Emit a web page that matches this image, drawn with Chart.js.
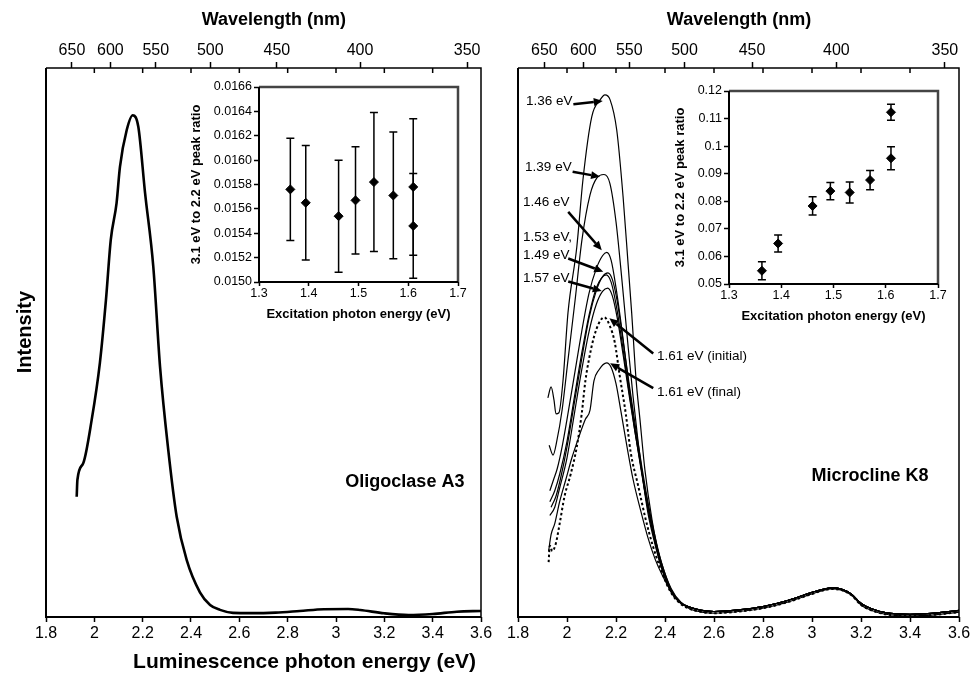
<!DOCTYPE html>
<html>
<head>
<meta charset="utf-8">
<script src="https://cdn.jsdelivr.net/npm/chart.js@4.4.1/dist/chart.umd.min.js"></script>
<style>
  body { margin: 0; background: #fff; }
  #wrap { position: relative; width: 974px; height: 677px; }
  #wrap canvas { position: absolute; left: 0; top: 0; }
</style>
</head>
<body>
<div id="wrap">
  <canvas id="oligoclase" width="974" height="677"></canvas>
  <canvas id="microcline" width="974" height="677"></canvas>
  <canvas id="oligoRatio" width="974" height="677"></canvas>
  <canvas id="k8Ratio" width="974" height="677"></canvas>
</div>
<script>
const HC = 1239.84; // eV nm
const wavelengthTicks = [650, 600, 550, 500, 450, 400, 350];

// Oligoclase A3 emission (all excitation energies overlap)
const oligoE = [1.927, 1.930, 1.954, 1.989, 2.023, 2.048, 2.068, 2.092, 2.106, 2.134, 2.159, 2.182, 2.210, 2.244, 2.272, 2.306, 2.341, 2.382, 2.437, 2.479, 2.520, 2.574, 2.650, 2.750, 2.850, 2.950, 3.050, 3.100, 3.200, 3.300, 3.400, 3.500, 3.600];
const oligoI = [0.219, 0.250, 0.280, 0.359, 0.463, 0.577, 0.687, 0.754, 0.820, 0.887, 0.914, 0.893, 0.772, 0.638, 0.455, 0.304, 0.182, 0.104, 0.045, 0.022, 0.013, 0.0075, 0.007, 0.008, 0.011, 0.0142, 0.0146, 0.0128, 0.0067, 0.0036, 0.0055, 0.0097, 0.011];

// Microcline K8 spectra, normalised on the 3.1 eV band; they share the tail
const tailE = [2.50, 2.55, 2.60, 2.70, 2.80, 2.90, 3.00, 3.05, 3.08, 3.12, 3.16, 3.20, 3.25, 3.30, 3.40, 3.50, 3.60];
const tailI = [0.018, 0.012, 0.010, 0.013, 0.019, 0.030, 0.045, 0.051, 0.053, 0.051, 0.042, 0.025, 0.014, 0.008, 0.005, 0.007, 0.012];
const tailILow = [0.015, 0.009, 0.007, 0.010, 0.016, 0.027, 0.042, 0.049, 0.051, 0.049, 0.040, 0.022, 0.011, 0.005, 0.002, 0.004, 0.009];

const e136 = [1.922, 1.935, 1.947, 1.955, 1.967, 1.984, 2.004, 2.040, 2.065, 2.101, 2.135, 2.155, 2.176, 2.203, 2.229, 2.249, 2.264, 2.282, 2.298, 2.318, 2.347, 2.380, 2.420, 2.461];
const i136 = [0.399, 0.419, 0.395, 0.370, 0.372, 0.432, 0.554, 0.674, 0.796, 0.911, 0.942, 0.951, 0.942, 0.887, 0.765, 0.645, 0.554, 0.432, 0.359, 0.268, 0.177, 0.104, 0.049, 0.026];
const e139 = [1.927, 1.943, 1.959, 1.980, 2.004, 2.033, 2.061, 2.094, 2.122, 2.151, 2.175, 2.200, 2.225, 2.250, 2.270, 2.290, 2.310, 2.330, 2.355, 2.385, 2.420, 2.460];
const i139 = [0.313, 0.295, 0.322, 0.377, 0.468, 0.577, 0.687, 0.769, 0.800, 0.806, 0.790, 0.720, 0.610, 0.490, 0.400, 0.320, 0.250, 0.190, 0.140, 0.090, 0.050, 0.027];
const e146 = [1.930, 1.945, 1.960, 1.980, 2.000, 2.030, 2.060, 2.090, 2.120, 2.145, 2.162, 2.180, 2.200, 2.225, 2.250, 2.275, 2.300, 2.325, 2.350, 2.380, 2.420, 2.460];
const i146 = [0.230, 0.250, 0.270, 0.310, 0.360, 0.440, 0.520, 0.590, 0.635, 0.658, 0.664, 0.650, 0.600, 0.520, 0.430, 0.350, 0.280, 0.210, 0.155, 0.100, 0.052, 0.027];
const e149 = [1.930, 1.950, 1.970, 2.000, 2.030, 2.060, 2.090, 2.120, 2.140, 2.160, 2.180, 2.200, 2.225, 2.250, 2.275, 2.300, 2.325, 2.350, 2.380, 2.420, 2.460];
const i149 = [0.210, 0.230, 0.260, 0.320, 0.400, 0.480, 0.550, 0.600, 0.617, 0.623, 0.610, 0.570, 0.500, 0.420, 0.345, 0.275, 0.210, 0.155, 0.100, 0.052, 0.027];
const e153 = [1.935, 1.955, 1.975, 2.000, 2.030, 2.060, 2.090, 2.120, 2.145, 2.167, 2.185, 2.205, 2.230, 2.255, 2.280, 2.305, 2.330, 2.355, 2.385, 2.425, 2.465];
const i153 = [0.200, 0.220, 0.255, 0.310, 0.390, 0.470, 0.545, 0.595, 0.620, 0.627, 0.615, 0.575, 0.500, 0.420, 0.345, 0.275, 0.210, 0.155, 0.100, 0.052, 0.027];
const e157 = [1.930, 1.950, 1.970, 2.000, 2.030, 2.060, 2.090, 2.120, 2.145, 2.166, 2.185, 2.205, 2.230, 2.255, 2.280, 2.305, 2.330, 2.355, 2.385, 2.425, 2.465];
const i157 = [0.185, 0.200, 0.235, 0.290, 0.370, 0.450, 0.520, 0.570, 0.593, 0.599, 0.585, 0.545, 0.475, 0.400, 0.330, 0.265, 0.205, 0.150, 0.100, 0.050, 0.026];
const e161i = [1.925, 1.930, 1.940, 1.955, 1.970, 1.990, 2.015, 2.040, 2.060, 2.075, 2.090, 2.110, 2.130, 2.152, 2.175, 2.195, 2.215, 2.240, 2.260, 2.290, 2.320, 2.350, 2.380, 2.420, 2.460];
const i161i = [0.100, 0.130, 0.120, 0.135, 0.170, 0.220, 0.260, 0.310, 0.370, 0.430, 0.470, 0.510, 0.535, 0.546, 0.530, 0.500, 0.440, 0.370, 0.300, 0.240, 0.180, 0.130, 0.090, 0.048, 0.025];
const e161f = [1.925, 1.935, 1.950, 1.970, 1.995, 2.020, 2.050, 2.075, 2.094, 2.110, 2.130, 2.162, 2.180, 2.200, 2.220, 2.245, 2.270, 2.300, 2.330, 2.360, 2.390, 2.430, 2.470];
const i161f = [0.120, 0.150, 0.170, 0.210, 0.250, 0.290, 0.330, 0.360, 0.377, 0.430, 0.450, 0.463, 0.455, 0.425, 0.375, 0.310, 0.250, 0.195, 0.145, 0.105, 0.075, 0.043, 0.024];

// curve labels: text, where it sits, arrow start and tip (eV, intensity)
const k8Labels = [['1.36 eV'], ['1.39 eV'], ['1.46 eV'], ['1.53 eV,', '1.49 eV'], ['1.57 eV'], ['1.61 eV (initial)'], ['1.61 eV (final)']];
const k8LabelAt = [[1.833, 0.940], [1.829, 0.820], [1.820, 0.756], [1.820, 0.692], [1.820, 0.617], [2.367, 0.474], [2.367, 0.410]];
const k8ArrowFrom = [[2.026, 0.934], [2.023, 0.811], [2.005, 0.738], [2.005, 0.653], [2.005, 0.611], [2.352, 0.480], [2.352, 0.417]];
const k8ArrowTo = [[2.146, 0.940], [2.135, 0.802], [2.142, 0.668], [2.148, 0.629], [2.142, 0.594], [2.173, 0.544], [2.176, 0.462]];

// 3.1 eV / 2.2 eV peak ratios against excitation energy
const excitation = [1.363, 1.394, 1.460, 1.494, 1.531, 1.570, 1.610, 1.610];
const oligoRatio = [0.01576, 0.01565, 0.01554, 0.01567, 0.01582, 0.01571, 0.01578, 0.01546];
const oligoRatioErr = [0.00042, 0.00047, 0.00046, 0.00044, 0.00057, 0.00052, 0.00056, 0.00043];
const k8Ratio = [0.0548, 0.0647, 0.0783, 0.0837, 0.0832, 0.0877, 0.0956, 0.1123];
const k8RatioErr = [0.0033, 0.0031, 0.0033, 0.0031, 0.0038, 0.0035, 0.0042, 0.0029];

Chart.defaults.font.family = '"Liberation Sans", Arial, Helvetica, sans-serif';
Chart.defaults.color = '#000';

const toPoints = (xs, ys) => xs.map((x, k) => ({ x, y: ys[k] }));
const trimNum = (v, d) => String(Number(v.toFixed(d)));
const boldFont = size => `bold ${size}px "Liberation Sans", Arial, sans-serif`;

// box round the plot area, with the inner eV ticks along the top edge
const framePlugin = {
    id: 'frame',
    afterDraw(chart, args, opts) {
        const { ctx, chartArea: a } = chart;
        ctx.save();
        ctx.lineWidth = opts.sideWidth;
        ctx.strokeStyle = opts.sideColor;
        ctx.beginPath();
        ctx.moveTo(a.left, a.top);
        ctx.lineTo(a.right, a.top);
        ctx.lineTo(a.right, a.bottom);
        ctx.stroke();
        ctx.lineWidth = opts.axisWidth;
        ctx.strokeStyle = '#000';
        ctx.beginPath();
        ctx.moveTo(a.left, a.top);
        ctx.lineTo(a.left, a.bottom);
        ctx.lineTo(a.right, a.bottom);
        ctx.stroke();
        if (opts.innerTop) {
            const xs = chart.scales.x;
            ctx.lineWidth = 1.5;
            ctx.beginPath();
            xs.ticks.forEach(t => {
                if (t.value <= xs.min || t.value >= xs.max) return;
                const px = xs.getPixelForValue(t.value);
                ctx.moveTo(px, a.top);
                ctx.lineTo(px, a.top + 5);
            });
            ctx.stroke();
        }
        ctx.restore();
    }
};

// free text placed in data units, plus pointer arrows
const notesPlugin = {
    id: 'notes',
    afterDraw(chart, args, opts) {
        const { ctx, scales: { x, y } } = chart;
        ctx.save();
        ctx.fillStyle = '#000';
        ctx.strokeStyle = '#000';
        (opts.texts || []).forEach(t => {
            const px = x.getPixelForValue(t.at[0]);
            const py = t.py !== undefined ? t.py : y.getPixelForValue(t.at[1]);
            ctx.save();
            ctx.font = t.font;
            ctx.textAlign = t.align || 'center';
            ctx.textBaseline = 'middle';
            ctx.translate(px, py);
            if (t.rotate) ctx.rotate(t.rotate);
            t.lines.forEach((line, k) => ctx.fillText(line, 0, k * 18));
            ctx.restore();
        });
        (opts.arrows || []).forEach(ar => {
            const x0 = x.getPixelForValue(ar.from[0]), y0 = y.getPixelForValue(ar.from[1]);
            const x1 = x.getPixelForValue(ar.to[0]), y1 = y.getPixelForValue(ar.to[1]);
            const ang = Math.atan2(y1 - y0, x1 - x0);
            const len = 9, half = 4;
            const bx = x1 - len * Math.cos(ang), by = y1 - len * Math.sin(ang);
            ctx.lineWidth = 2.5;
            ctx.beginPath();
            ctx.moveTo(x0, y0);
            ctx.lineTo(bx, by);
            ctx.stroke();
            ctx.beginPath();
            ctx.moveTo(x1, y1);
            ctx.lineTo(bx + half * Math.sin(ang), by - half * Math.cos(ang));
            ctx.lineTo(bx - half * Math.sin(ang), by + half * Math.cos(ang));
            ctx.closePath();
            ctx.fill();
        });
        ctx.restore();
    }
};

// vertical error bars with caps
const errorBarPlugin = {
    id: 'errorBars',
    beforeDatasetsDraw(chart) {
        const { ctx, scales: { x, y } } = chart;
        ctx.save();
        ctx.strokeStyle = '#000';
        ctx.lineWidth = 1.5;
        chart.data.datasets.forEach(ds => {
            ds.data.forEach(p => {
                const px = x.getPixelForValue(p.x);
                const top = y.getPixelForValue(p.y + p.err);
                const bot = y.getPixelForValue(p.y - p.err);
                ctx.beginPath();
                ctx.moveTo(px, top); ctx.lineTo(px, bot);
                ctx.moveTo(px - 4, top); ctx.lineTo(px + 4, top);
                ctx.moveTo(px - 4, bot); ctx.lineTo(px + 4, bot);
                ctx.stroke();
            });
        });
        ctx.restore();
    }
};

function spectrumChart(id, datasets, pad, notes) {
    return new Chart(document.getElementById(id), {
        type: 'line',
        data: { datasets },
        options: {
            responsive: false,
            animation: false,
            events: [],
            devicePixelRatio: 1,
            layout: { padding: { left: pad.left, right: pad.right, top: 0, bottom: 0 } },
            elements: { point: { radius: 0 }, line: { cubicInterpolationMode: 'monotone' } },
            plugins: {
                legend: { display: false },
                tooltip: { enabled: false },
                frame: { sideWidth: 1.5, sideColor: '#000', axisWidth: 2, innerTop: true },
                notes
            },
            scales: {
                x: {
                    type: 'linear', position: 'bottom', min: 1.8, max: 3.6,
                    ticks: { stepSize: 0.2, autoSkip: false, maxRotation: 0, padding: 2,
                             font: { size: 16 }, callback: v => trimNum(v, 1) },
                    grid: { drawOnChartArea: false, tickLength: 5, tickWidth: 1.5, color: '#000' },
                    border: { display: false },
                    afterFit: s => { s.height = 60; }
                },
                top: {
                    type: 'linear', axis: 'x', position: 'top', min: 1.8, max: 3.6,
                    afterBuildTicks: s => { s.ticks = wavelengthTicks.map(nm => ({ value: HC / nm })); },
                    ticks: { autoSkip: false, maxRotation: 0, padding: 2, font: { size: 16 },
                             callback: v => String(Math.round(HC / v)) },
                    grid: { drawOnChartArea: false, tickLength: 6, tickWidth: 1.5, color: '#000' },
                    border: { display: false },
                    afterFit: s => { s.height = 68; }
                },
                y: { display: false, min: 0, max: 1 }
            }
        },
        plugins: [framePlugin, notesPlugin]
    });
}

function ratioChart(id, ratios, errs, pad, yWidth, yRange, yLabel) {
    return new Chart(document.getElementById(id), {
        type: 'scatter',
        data: {
            datasets: [{
                data: excitation.map((x, k) => ({ x, y: ratios[k], err: errs[k] })),
                pointStyle: 'rectRot', radius: 4.5, borderWidth: 1,
                backgroundColor: '#000', borderColor: '#000'
            }]
        },
        options: {
            responsive: false,
            animation: false,
            events: [],
            devicePixelRatio: 1,
            layout: { padding: pad },
            plugins: {
                legend: { display: false },
                tooltip: { enabled: false },
                frame: { sideWidth: 2.5, sideColor: '#444', axisWidth: 2, innerTop: false }
            },
            scales: {
                x: {
                    type: 'linear', min: 1.3, max: 1.7,
                    ticks: { stepSize: 0.1, padding: 0, font: { size: 12.5 }, callback: v => v.toFixed(1) },
                    grid: { drawOnChartArea: false, tickLength: 4, tickWidth: 1.5, color: '#000' },
                    border: { display: false },
                    title: { display: true, text: 'Excitation photon energy (eV)',
                             font: { size: 13, weight: 'bold' }, padding: { top: 0, bottom: 0 } },
                    afterFit: s => { s.height = 40; }
                },
                y: {
                    type: 'linear', min: yRange[0], max: yRange[1],
                    ticks: { stepSize: yRange[2], padding: 2, font: { size: 12.5 }, callback: yLabel },
                    grid: { drawOnChartArea: false, tickLength: 5, tickWidth: 1.5, color: '#000' },
                    border: { display: false },
                    title: { display: true, text: '3.1 eV to 2.2 eV peak ratio',
                             font: { size: 13, weight: 'bold' }, padding: { top: 0, bottom: 0 } },
                    afterFit: s => { s.width = yWidth; }
                }
            }
        },
        plugins: [framePlugin, errorBarPlugin]
    });
}

// left panel
spectrumChart('oligoclase', [{
    data: toPoints(oligoE, oligoI), borderColor: '#000', borderWidth: 2.6
}], { left: 46, right: 493 }, {
    texts: [
        { lines: ['Wavelength (nm)'], at: [2.743, 0], py: 20, font: boldFont(18) },
        { lines: ['Intensity'], at: [1.717, 0.519], rotate: -Math.PI / 2, font: boldFont(20) },
        { lines: ['Oligoclase A3'], at: [3.285, 0.246], font: boldFont(18) },
        { lines: ['Luminescence photon energy (eV)'], at: [2.87, 0], py: 662, font: boldFont(21) }
    ]
});

// right panel
const k8Spectra = [
    { e: e136, i: i136 }, { e: e139, i: i139 }, { e: e146, i: i146 }, { e: e149, i: i149 },
    { e: e153, i: i153 }, { e: e157, i: i157 },
    { e: e161i, i: i161i, dash: [2.5, 2.5], low: true }, { e: e161f, i: i161f, low: true }
];
const labelFont = '13.5px "Liberation Sans", Arial, sans-serif';
spectrumChart('microcline', k8Spectra.map(s => ({
    data: toPoints(s.e.concat(tailE), s.i.concat(s.low ? tailILow : tailI)),
    borderColor: '#000',
    borderWidth: s.dash ? 2 : 1.2,
    borderDash: s.dash || []
})), { left: 518, right: 15 }, {
    texts: [
        { lines: ['Wavelength (nm)'], at: [2.702, 0], py: 20, font: boldFont(18) },
        { lines: ['Microcline K8'], at: [3.237, 0.257], font: boldFont(18) }
    ].concat(k8Labels.map((lines, k) => ({ lines, at: k8LabelAt[k], align: 'left', font: labelFont }))),
    arrows: k8ArrowFrom.map((from, k) => ({ from, to: k8ArrowTo[k] }))
});

// insets
ratioChart('oligoRatio', oligoRatio, oligoRatioErr,
    { left: 189, right: 516, top: 87, bottom: 355 }, 70,
    [0.0150, 0.0166, 0.0002], v => v.toFixed(4));
ratioChart('k8Ratio', k8Ratio, k8RatioErr,
    { left: 673, right: 36, top: 91, bottom: 353 }, 56,
    [0.05, 0.12, 0.01], v => trimNum(v, 2));
</script>
</body>
</html>
